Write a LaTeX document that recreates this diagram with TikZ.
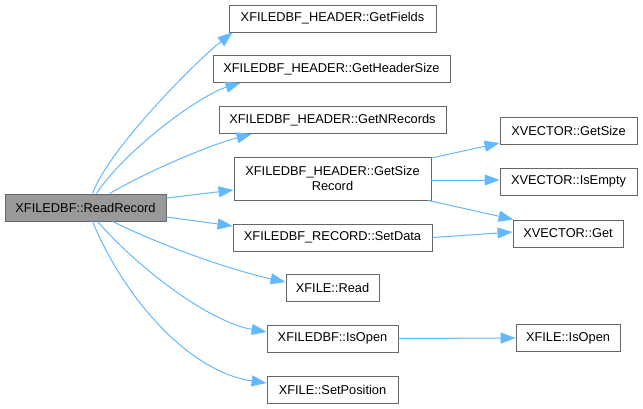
\documentclass[tikz,border=0pt]{standalone}
\usepackage{fontspec}
\setmainfont{Liberation Sans}
\usetikzlibrary{arrows.meta}
\definecolor{edgeblue}{HTML}{63B8FF}
\definecolor{boxline}{HTML}{666666}
\definecolor{rootfill}{HTML}{999999}
\tikzset{
  fn/.style={draw=boxline, line width=0.9pt, fill=white, inner sep=0pt, minimum height=27pt,
    font=\fontsize{12.8}{15}\selectfont, align=center, text=black},
  rootfn/.style={fn, fill=rootfill},
  call/.style={draw=edgeblue, line width=1pt, -{Triangle[length=15pt,width=11pt]}},
}
\begin{document}
\begin{tikzpicture}[x=1pt, y=-1pt]
\useasboundingbox (0,0) rectangle (643,408);
% nodes
\node[rootfn, minimum width=161pt] (rr) at (85.5,207.5) {XFILEDBF::ReadRecord};
\node[fn, minimum width=207pt] (gf) at (332.5,18.5) {XFILEDBF\_HEADER::GetFields};
\node[fn, minimum width=237pt] (ghs) at (331.5,69) {XFILEDBF\_HEADER::GetHeaderSize};
\node[fn, minimum width=227pt] (gnr) at (332.5,120) {XFILEDBF\_HEADER::GetNRecords};
\node[fn, minimum width=197pt, minimum height=43pt] (gsr) at (332.5,178.5) {XFILEDBF\_HEADER::GetSize\\Record};
\node[fn, minimum width=199pt] (sd) at (332.5,237.5) {XFILEDBF\_RECORD::SetData};
\node[fn, minimum width=93pt] (xr) at (332.5,288) {XFILE::Read};
\node[fn, minimum width=131pt] (io) at (332.5,338.5) {XFILEDBF::IsOpen};
\node[fn, minimum width=131pt] (sp) at (332.5,389.5) {XFILE::SetPosition};
\node[fn, minimum width=137pt] (vgs) at (568.5,130.5) {XVECTOR::GetSize};
\node[fn, minimum width=137pt] (vie) at (568.5,181.5) {XVECTOR::IsEmpty};
\node[fn, minimum width=110pt] (vg) at (568,233.5) {XVECTOR::Get};
\node[fn, minimum width=104pt] (fio) at (568,338) {XFILE::IsOpen};
% edges from ReadRecord
\draw[call] ([xshift=88pt]rr.north west) .. controls (108,150) and (195,62) .. ([xshift=4pt]gf.south west);
\draw[call] ([xshift=92pt]rr.north west) .. controls (125,150) and (200,95) .. ([xshift=28pt]ghs.south west);
\draw[call] ([xshift=105pt]rr.north west) .. controls (150,170) and (210,145) .. ([xshift=33pt]gnr.south west);
\draw[call] ([yshift=9.5pt]rr.east) -- ([yshift=-11.5pt]gsr.west);
\draw[call] ([yshift=-9.5pt]rr.east) -- ([yshift=11.5pt]sd.west);
\draw[call] ([xshift=108pt]rr.south west) .. controls (160,245) and (230,270) .. ([yshift=6pt]xr.west);
\draw[call] ([xshift=93pt]rr.south west) .. controls (140,270) and (210,322) .. ([yshift=6.5pt]io.west);
\draw[call] ([xshift=88pt]rr.south west) .. controls (125,300) and (190,372) .. ([yshift=6.5pt]sp.west);
% edges from second level
\draw[call] ([yshift=20.5pt]gsr.east) -- ([yshift=-12.5pt]vgs.west);
\draw[call] ([yshift=-1.5pt]gsr.east) -- ([yshift=1.5pt]vie.west);
\draw[call] ([xshift=-3pt]gsr.south east) -- ([xshift=1pt]vg.north west);
\draw[call] (sd.east) -- ([yshift=1.5pt]vg.west);
\draw[call] (io.east) -- (fio.west);
\end{tikzpicture}
\end{document}
